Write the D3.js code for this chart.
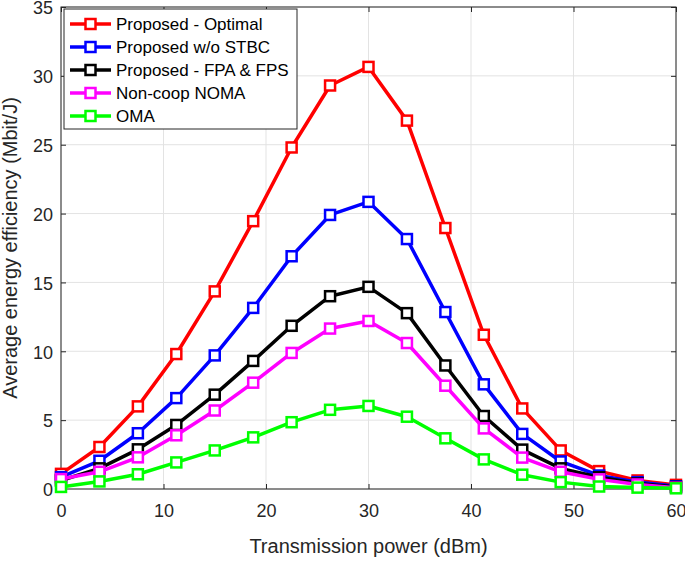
<!DOCTYPE html>
<html lang="en">
<head>
  <meta charset="UTF-8">
  <title>Average energy efficiency vs transmission power</title>
  <script src="https://d3js.org/d3.v7.min.js"></script>
  <style>
    body { margin: 0; background: #fff; }
    svg { display: block; font-family: Arial, 'Liberation Sans', sans-serif; }
  </style>
</head>
<body>
  <div id="chart"></div>
  <script>
    // Transmission power (dBm)
    const power = [0, 3.75, 7.5, 11.25, 15, 18.75, 22.5, 26.25, 30, 33.75, 37.5, 41.25, 45, 48.75, 52.5, 56.25, 60];

    // Average energy efficiency (Mbit/J)
    const optimal  = [1.1, 3.05, 6.0, 9.8, 14.35, 19.45, 24.8, 29.3, 30.65, 26.75, 18.95, 11.2, 5.85, 2.8, 1.3, 0.62, 0.3];
    const noStbc   = [0.86, 2.05, 4.05, 6.6, 9.7, 13.15, 16.9, 19.9, 20.85, 18.15, 12.85, 7.6, 4.0, 2.0, 0.98, 0.5, 0.2];
    const fpaFps   = [0.62, 1.5, 2.88, 4.65, 6.85, 9.3, 11.85, 14.0, 14.68, 12.77, 8.97, 5.3, 2.86, 1.5, 0.85, 0.4, 0.15];
    const noncoop  = [0.72, 1.25, 2.3, 3.9, 5.7, 7.72, 9.88, 11.65, 12.2, 10.6, 7.5, 4.4, 2.28, 1.25, 0.7, 0.33, 0.1];
    const oma      = [0.15, 0.55, 1.07, 1.93, 2.8, 3.75, 4.85, 5.75, 6.03, 5.25, 3.68, 2.15, 1.04, 0.5, 0.18, 0.1, 0.05];

    const seriesNames = ["Proposed - Optimal", "Proposed w/o STBC", "Proposed - FPA & FPS", "Non-coop NOMA", "OMA"];
    const seriesValues = [optimal, noStbc, fpaFps, noncoop, oma];
    const seriesColors = ["#ff0000", "#0000ff", "#000000", "#ff00ff", "#00ff00"];

    const xTicks = [0, 10, 20, 30, 40, 50, 60];
    const yTicks = [0, 5, 10, 15, 20, 25, 30, 35];

    const W = 685, H = 561;
    const margin = { top: 7, right: 9, bottom: 72, left: 61 };
    const width = W - margin.left - margin.right;
    const height = H - margin.top - margin.bottom;

    const svg = d3.select("#chart").append("svg")
      .attr("width", W)
      .attr("height", H);

    const g = svg.append("g")
      .attr("transform", `translate(${margin.left},${margin.top})`);

    const x = d3.scaleLinear().domain([0, 60]).range([0, width]);
    const y = d3.scaleLinear().domain([0, 35]).range([height, 0]);

    const axisColor = "#262626";

    // grid
    g.append("g").selectAll("line.gx")
      .data(xTicks)
      .enter().append("line")
      .attr("x1", d => x(d)).attr("x2", d => x(d))
      .attr("y1", 0).attr("y2", height)
      .attr("stroke", "#e3e3e3").attr("stroke-width", 1);
    g.append("g").selectAll("line.gy")
      .data(yTicks)
      .enter().append("line")
      .attr("x1", 0).attr("x2", width)
      .attr("y1", d => y(d)).attr("y2", d => y(d))
      .attr("stroke", "#e3e3e3").attr("stroke-width", 1);

    // axes (MATLAB style, ticks pointing inward, box on)
    const styleAxis = sel => {
      sel.select(".domain").remove();
      sel.selectAll(".tick line").attr("stroke", axisColor);
      sel.selectAll(".tick text")
        .attr("fill", axisColor)
        .style("font-size", "18px")
        .style("font-family", "Arial, 'Liberation Sans', sans-serif");
    };

    g.append("g")
      .attr("transform", `translate(0,${height})`)
      .call(d3.axisBottom(x).tickValues(xTicks).tickSizeInner(-5).tickSizeOuter(0).tickPadding(15))
      .call(styleAxis);
    g.append("g")
      .call(d3.axisTop(x).tickValues(xTicks).tickSizeInner(-5).tickSizeOuter(0).tickFormat(""))
      .call(styleAxis);
    g.append("g")
      .call(d3.axisLeft(y).tickValues(yTicks).tickSizeInner(-5).tickSizeOuter(0).tickPadding(8))
      .call(styleAxis)
      .selectAll(".tick text").attr("dy", "0.38em");
    g.append("g")
      .attr("transform", `translate(${width},0)`)
      .call(d3.axisRight(y).tickValues(yTicks).tickSizeInner(-5).tickSizeOuter(0).tickFormat(""))
      .call(styleAxis);

    g.append("rect")
      .attr("x", 0).attr("y", 0)
      .attr("width", width).attr("height", height)
      .attr("fill", "none")
      .attr("stroke", axisColor)
      .attr("stroke-width", 1);

    // lines + markers
    const line = d3.line()
      .x((d, i) => x(power[i]))
      .y(d => y(d));

    const ms = 10;
    seriesValues.forEach((vals, k) => {
      g.append("path")
        .datum(vals)
        .attr("d", line)
        .attr("fill", "none")
        .attr("stroke", seriesColors[k])
        .attr("stroke-width", 3.5)
        .attr("stroke-linejoin", "round");
      g.append("g").selectAll("rect")
        .data(vals)
        .enter().append("rect")
        .attr("x", (d, i) => x(power[i]) - ms / 2)
        .attr("y", d => y(d) - ms / 2)
        .attr("width", ms).attr("height", ms)
        .attr("fill", "#fff")
        .attr("stroke", seriesColors[k])
        .attr("stroke-width", 2.5);
    });

    // axis labels
    svg.append("text")
      .attr("x", margin.left + width / 2)
      .attr("y", 553)
      .attr("text-anchor", "middle")
      .attr("fill", axisColor)
      .style("font-size", "20px")
      .text("Transmission power (dBm)");

    svg.append("text")
      .attr("transform", `translate(17,${margin.top + height / 2}) rotate(-90)`)
      .attr("text-anchor", "middle")
      .attr("fill", axisColor)
      .style("font-size", "20px")
      .text("Average energy efficiency (Mbit/J)");

    // legend
    const legend = svg.append("g").attr("transform", "translate(64,9)");
    legend.append("rect")
      .attr("width", 233).attr("height", 120)
      .attr("fill", "#fff")
      .attr("stroke", "#262626")
      .attr("stroke-width", 1);

    seriesNames.forEach((name, k) => {
      const ly = 15 + k * 23;
      legend.append("line")
        .attr("x1", 6).attr("x2", 47)
        .attr("y1", ly).attr("y2", ly)
        .attr("stroke", seriesColors[k])
        .attr("stroke-width", 3.5);
      legend.append("rect")
        .attr("x", 26.5 - ms / 2).attr("y", ly - ms / 2)
        .attr("width", ms).attr("height", ms)
        .attr("fill", "#fff")
        .attr("stroke", seriesColors[k])
        .attr("stroke-width", 2.5);
      legend.append("text")
        .attr("x", 52)
        .attr("y", ly + 6)
        .attr("fill", "#000")
        .style("font-size", "17px")
        .text(name);
    });
  </script>
</body>
</html>
